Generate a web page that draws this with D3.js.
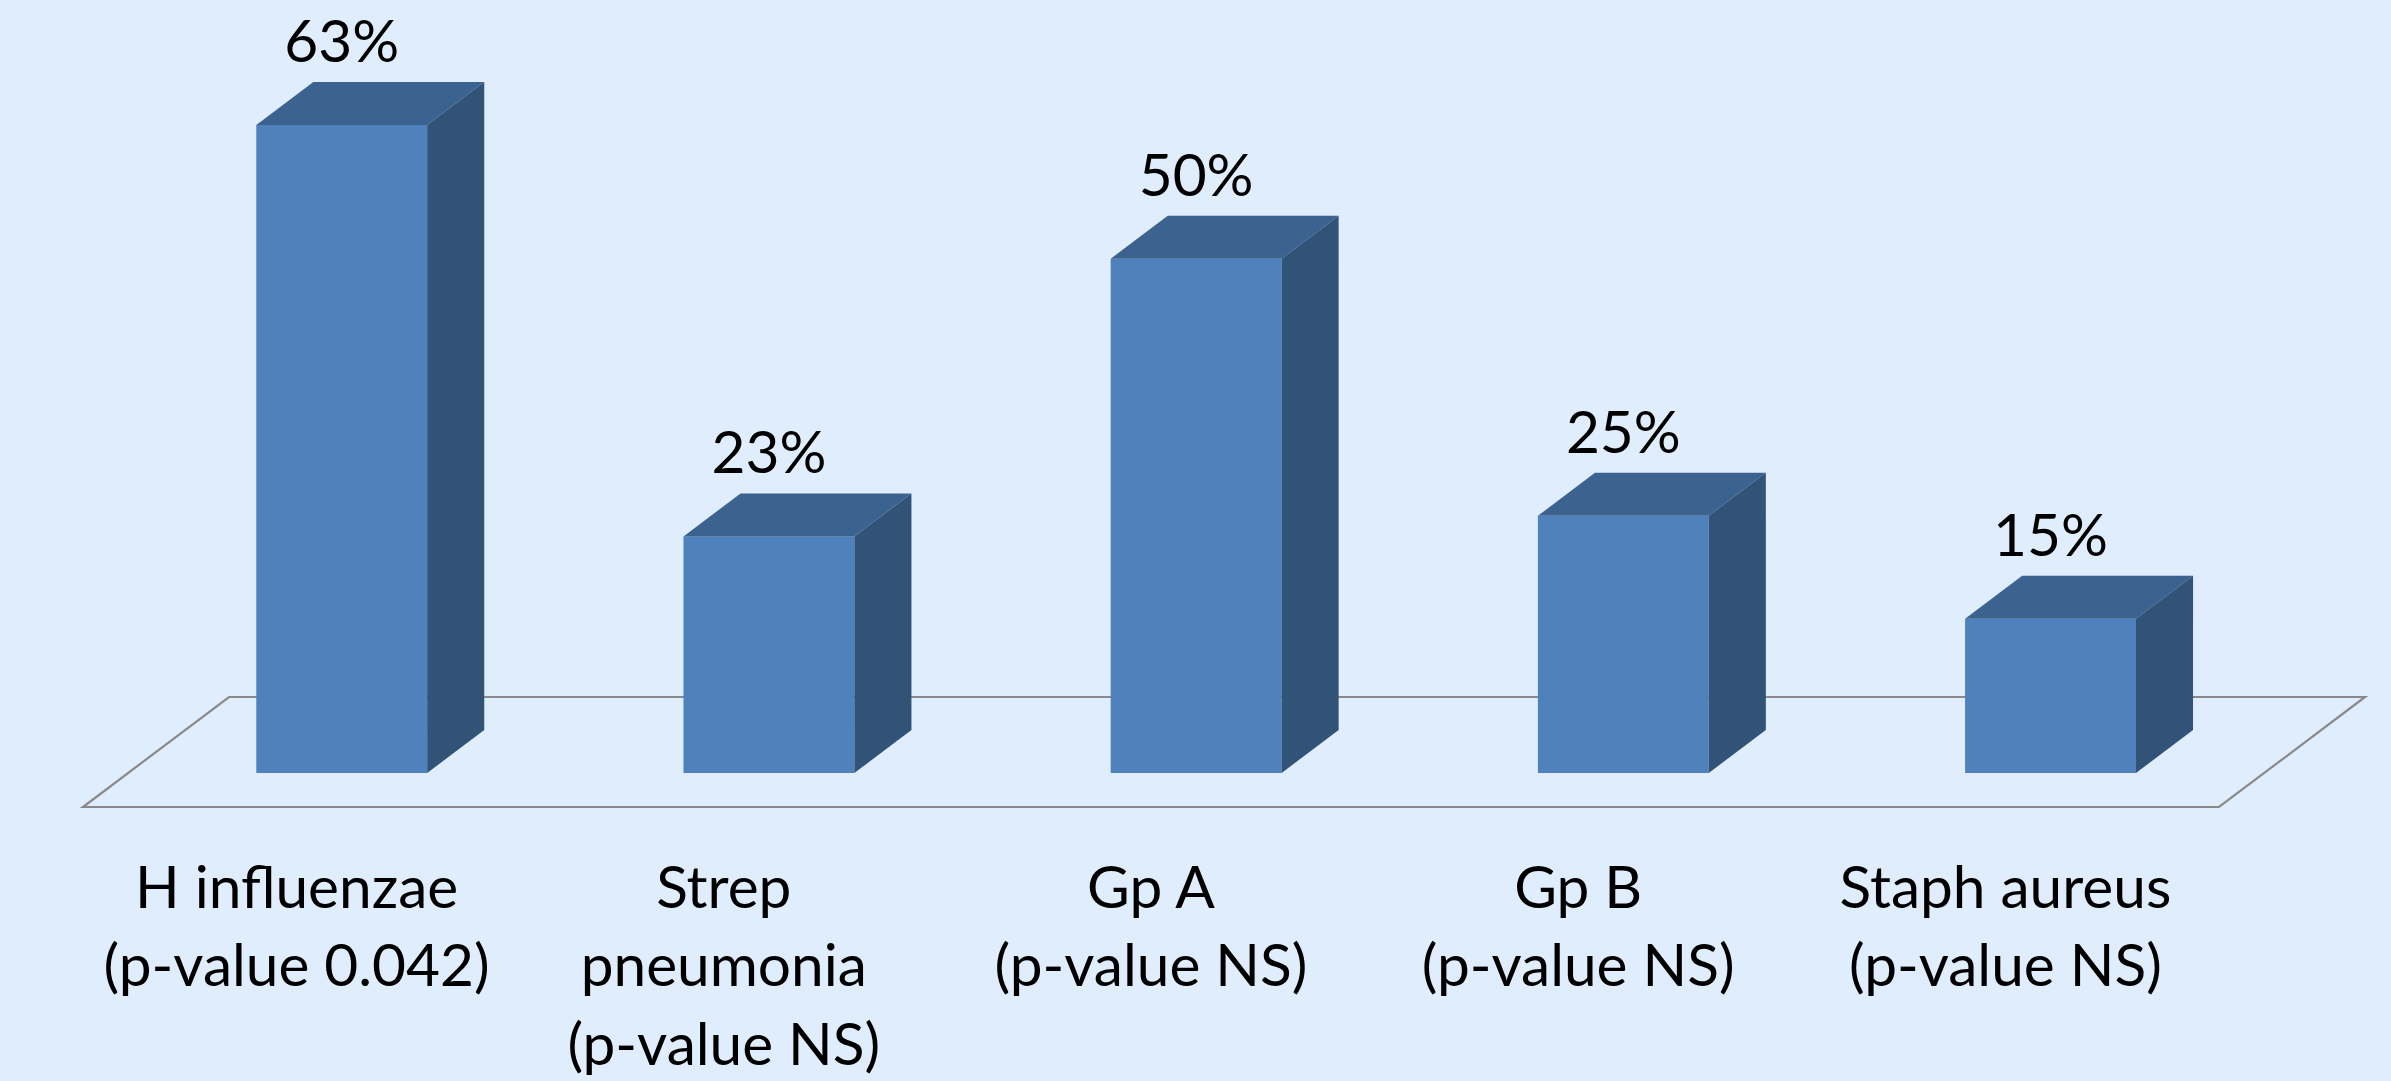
<!DOCTYPE html>
<html>
<head>
<meta charset="utf-8">
<script src="https://cdn.jsdelivr.net/npm/d3@7"></script>
<style>
  html, body { margin: 0; padding: 0; background: #DFEDFD; overflow: hidden; }
  svg { display: block; }
</style>
</head>
<body>
<svg id="chart" width="2391" height="1081"></svg>
<script>
// ---- data ----
const categories = ["H influenzae", "Strep pneumonia", "Gp A", "Gp B", "Staph aureus"];
const categoryLines = [
  ["H influenzae", "(p-value 0.042)"],
  ["Strep", "pneumonia", "(p-value NS)"],
  ["Gp A", "(p-value NS)"],
  ["Gp B", "(p-value NS)"],
  ["Staph aureus", "(p-value NS)"]
];
const values = [63, 23, 50, 25, 15];
const valueLabels = ["63%", "23%", "50%", "25%", "15%"];

// ---- layout ----
const W = 2391, H = 1081;
const floorFrontY = 807;
const floorDepthY = 110;            // vertical extent of the floor (perspective)
const slope = 146 / 110;            // dx per dy for depth
const barFrontDepth = 34;           // bar front face sits this far into the floor
const barDepth = 43;                // bar depth (vertical px)

const svg = d3.select("#chart");
svg.append("rect").attr("width", W).attr("height", H).attr("fill", "#DFEDFD");

const x = d3.scaleBand()
  .domain(categories)
  .range([83, 2219])
  .paddingInner(0.6)
  .paddingOuter(0.3);

const xCenter = d3.scaleBand().domain(categories).range([83, 2219]).padding(0);

const baseY = floorFrontY - barFrontDepth;   // 773
const y = d3.scaleLinear().domain([0, 70]).range([baseY, baseY - 720]);

const fdx = barFrontDepth * slope;   // x offset of bar front face
const bdx = barDepth * slope;
const bdy = barDepth;

// ---- floor ----
const floorPts = [
  [x.range()[0], floorFrontY],
  [x.range()[1], floorFrontY],
  [x.range()[1] + floorDepthY * slope, floorFrontY - floorDepthY],
  [x.range()[0] + floorDepthY * slope, floorFrontY - floorDepthY]
];
svg.append("path")
  .attr("d", d3.line()(floorPts) + "Z")
  .attr("fill", "none")
  .attr("stroke", "#8A8A8A")
  .attr("stroke-width", 2.2)
  .attr("stroke-linejoin", "miter");

// ---- bars ----
const g = svg.append("g");
const bars = g.selectAll("g.bar").data(categories.map((c, i) => ({c, v: values[i], lab: valueLabels[i]})))
  .enter().append("g").attr("class", "bar");

bars.each(function(d) {
  const sel = d3.select(this);
  const x0 = x(d.c) + fdx;
  const x1 = x0 + x.bandwidth();
  const yt = y(d.v);
  const yb = y(0);
  // front
  sel.append("rect")
    .attr("x", x0).attr("y", yt)
    .attr("width", x1 - x0).attr("height", yb - yt)
    .attr("fill", "#4F81BD");
  // top
  sel.append("path")
    .attr("d", d3.line()([[x0, yt], [x1, yt], [x1 + bdx, yt - bdy], [x0 + bdx, yt - bdy]]) + "Z")
    .attr("fill", "#3C628F");
  // side
  sel.append("path")
    .attr("d", d3.line()([[x1, yt], [x1 + bdx, yt - bdy], [x1 + bdx, yb - bdy], [x1, yb]]) + "Z")
    .attr("fill", "#325378");
});

const font = "Lato, 'Open Sans', 'Noto Sans', sans-serif";
const fontSize = 58;

// value labels
const vl = bars.append("text")
  .attr("x", d => x(d.c) + fdx + x.bandwidth() / 2)
  .attr("y", d => y(d.v) - 63)
  .attr("text-anchor", "middle")
  .attr("font-family", font)
  .attr("font-size", fontSize)
  .attr("fill", "#000")
  .text(d => d.lab);

// category labels
const lineGap = 78.5;
const firstBaseline = 908;
const cl = svg.append("g").selectAll("text")
  .data(categories.map((c, i) => ({c, lines: categoryLines[i]})))
  .enter().append("text")
  .attr("text-anchor", "middle")
  .attr("font-family", font)
  .attr("font-size", fontSize)
  .attr("fill", "#000");

cl.each(function(d) {
  const t = d3.select(this);
  d.lines.forEach((ln, k) => {
    t.append("tspan")
      .attr("x", xCenter(d.c) + xCenter.bandwidth() / 2)
      .attr("y", firstBaseline + k * lineGap)
      .text(ln);
  });
});

// horizontal compression to approximate the narrower original face
const refNode = cl.filter((d, i) => i === 0).selectAll("tspan").nodes()[1];
const measured = refNode.getComputedTextLength();
const targetW = 386;
const sx = targetW / measured;
function squeeze(sel, cxFn) {
  sel.attr("transform", function(d) {
    const cx = cxFn(d);
    return `translate(${cx},0) scale(${sx},1) translate(${-cx},0)`;
  });
}
squeeze(cl, d => xCenter(d.c) + xCenter.bandwidth() / 2);
squeeze(vl, d => x(d.c) + fdx + x.bandwidth() / 2);
</script>
</body>
</html>
